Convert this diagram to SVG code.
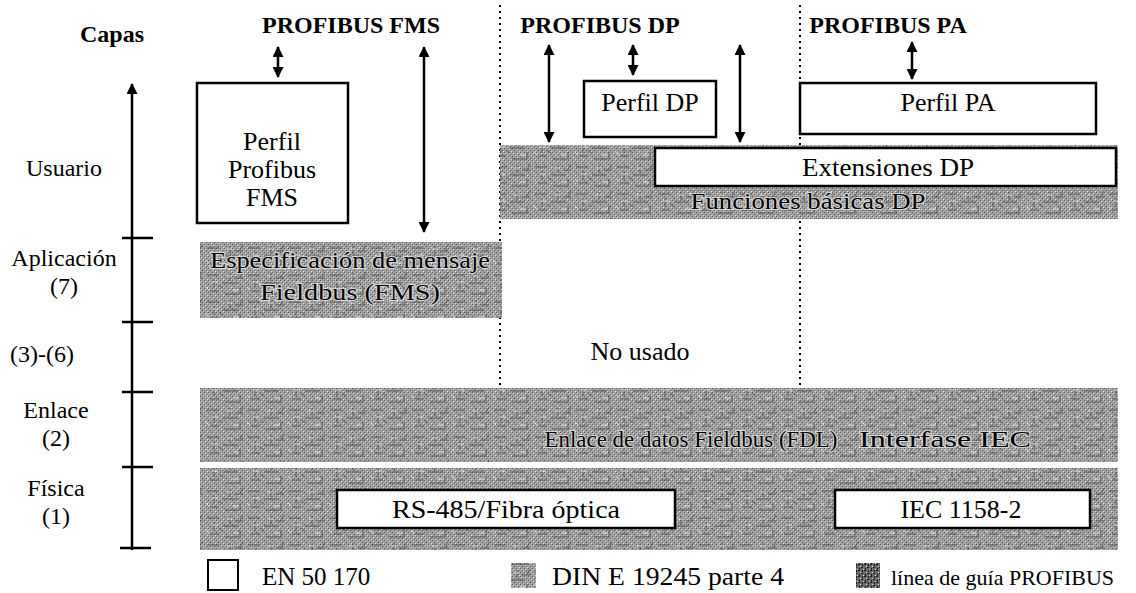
<svg xmlns="http://www.w3.org/2000/svg" width="1136" height="593" viewBox="0 0 1136 593">
<defs>
<pattern id="dots" width="8" height="8" patternUnits="userSpaceOnUse">
<rect width="8" height="8" fill="#a0a0a0"/>
<path d="M0 0h1v1H0zM2 2h1v1H2zM4 0h1v1H4zM6 2h1v1H6zM0 4h1v1H0zM4 4h1v1H4zM2 6h1v1H2zM6 6h1v1H6z" fill="#5a5a5a"/>
<path d="M1 1h1v1H1zM5 5h1v1H5zM3 3h1v1H3zM7 7h1v1H7zM5 1h1v1H5z" fill="#e2e2e2"/>
</pattern>
<pattern id="noise" width="41" height="27" patternUnits="userSpaceOnUse">
<path d="M2 5h12M18 13h15M5 21h9M25 3v8M9 9v9M35 17v8M20 24h14M30 8h8M14 15l4 3M38 2l-3 5" stroke="#404040" stroke-width="1" fill="none" opacity="0.75"/>
<path d="M7 12h6M22 6h5M28 20h6M1 17l3 3" stroke="#f0f0f0" stroke-width="1" fill="none" opacity="0.8"/>
</pattern>
<pattern id="dark" width="6" height="6" patternUnits="userSpaceOnUse">
<rect width="6" height="6" fill="#6a6a6a"/>
<path d="M0 0h2v1H0zM3 3h2v1H3zM1 4h1v2H1zM4 0h1v2H4z" fill="#1e1e1e"/>
<path d="M2 2h1v1H2zM5 5h1v1H5z" fill="#d8d8d8"/>
</pattern>
<marker id="ah" viewBox="0 0 11 11" refX="10" refY="5.5" markerWidth="11" markerHeight="11" markerUnits="userSpaceOnUse" orient="auto-start-reverse">
<path d="M0 0L11 5.5L0 11z" fill="#000"/>
</marker>
<style>
text{font-family:"Liberation Serif","Times New Roman",serif;fill:#000}
.t{font-size:24px}
.m{font-size:26px}
.l{font-size:25px}
.h{font-size:24px;font-weight:bold}
.c{text-anchor:middle}
.g{font-size:23px;text-anchor:middle;stroke:#d8d8d8;stroke-width:2;paint-order:stroke}
.box{fill:#fff;stroke:#000;stroke-width:2.5}
.gray{fill:url(#dots)}
.nz{fill:url(#noise)}
.ax{stroke:#000;stroke-width:2.5;fill:none}
.arr{stroke:#000;stroke-width:2.5;fill:none;marker-start:url(#ah);marker-end:url(#ah)}
.dot{stroke:#000;stroke-width:2;stroke-dasharray:2 4;fill:none}
</style>
</defs>
<rect width="1136" height="593" fill="#fff"/>

<g id="titles">
<text class="h c" x="112" y="42">Capas</text>
<text class="h c" x="351" y="33">PROFIBUS FMS</text>
<text class="h c" x="600" y="33">PROFIBUS DP</text>
<text class="h c" x="888" y="33">PROFIBUS PA</text>
</g>

<g id="axis">
<line class="ax" x1="132" y1="550" x2="132" y2="84" marker-end="url(#ah)"/>
<path class="ax" d="M122 238h31M122 322h31M122 392h31M122 467h31M120 548h31"/>
<text class="t c" x="64" y="176">Usuario</text>
<text class="t c" x="64" y="266">Aplicación</text>
<text class="t c" x="64" y="294">(7)</text>
<text class="t c" x="42" y="362">(3)-(6)</text>
<text class="t c" x="56" y="418">Enlace</text>
<text class="t c" x="56" y="446">(2)</text>
<text class="t c" x="56" y="496">Física</text>
<text class="t c" x="56" y="524">(1)</text>
</g>

<g id="dividers">
<line class="dot" x1="500" y1="5" x2="500" y2="388"/>
<line class="dot" x1="800" y1="5" x2="800" y2="388"/>
</g>

<g id="fms-perfil">
<rect class="box" x="197" y="83" width="151" height="140"/>
<text class="m c" x="272" y="150">Perfil</text>
<text class="m c" x="272" y="178">Profibus</text>
<text class="m c" x="272" y="206">FMS</text>
</g>

<g id="dp-basicas">
<rect class="gray" x="500" y="145" width="618" height="74"/>
<rect class="nz" x="500" y="145" width="618" height="74"/>
<text class="g" x="808" y="209" textLength="235" lengthAdjust="spacingAndGlyphs">Funciones básicas DP</text>
</g>

<g id="dp-ext">
<rect class="box" x="655" y="148" width="461" height="38"/>
<text class="m c" x="888" y="176" textLength="172" lengthAdjust="spacingAndGlyphs">Extensiones DP</text>
</g>

<g id="dp-perfil">
<rect class="box" x="584" y="81" width="132" height="56"/>
<text class="m c" x="650" y="111">Perfil DP</text>
</g>

<g id="pa-perfil">
<rect class="box" x="800" y="83" width="296" height="51"/>
<text class="m c" x="948" y="111">Perfil PA</text>
</g>

<g id="fms-spec">
<rect class="gray" x="200" y="242" width="302" height="76"/>
<rect class="nz" x="200" y="242" width="302" height="76"/>
<text class="g" x="350" y="268" textLength="280" lengthAdjust="spacingAndGlyphs">Especificación de mensaje</text>
<text class="g" x="350" y="300" textLength="180" lengthAdjust="spacingAndGlyphs">Fieldbus (FMS)</text>
</g>

<g id="no-usado">
<text class="m c" x="640" y="360">No usado</text>
</g>

<g id="enlace">
<rect class="gray" x="200" y="388" width="918" height="74"/>
<rect class="nz" x="200" y="388" width="918" height="74"/>
<text class="g" x="691" y="447" textLength="293" lengthAdjust="spacingAndGlyphs">Enlace de datos Fieldbus (FDL)</text>
<text class="g" x="945" y="447" textLength="172" lengthAdjust="spacingAndGlyphs">Interfase IEC</text>
</g>

<g id="fisica">
<rect class="gray" x="200" y="468" width="918" height="82"/>
<rect class="nz" x="200" y="468" width="918" height="82"/>
</g>

<g id="rs485">
<rect class="box" x="337" y="490" width="338" height="38"/>
<text class="m c" x="506" y="518" textLength="228" lengthAdjust="spacingAndGlyphs">RS-485/Fibra óptica</text>
</g>

<g id="iec">
<rect class="box" x="835" y="490" width="255" height="38"/>
<text class="m c" x="961" y="518">IEC 1158-2</text>
</g>

<g id="connectors">
<line class="arr" x1="278" y1="47" x2="278" y2="77"/>
<line class="arr" x1="424" y1="47" x2="424" y2="232"/>
<line class="arr" x1="549" y1="45" x2="549" y2="142"/>
<line class="arr" x1="633" y1="45" x2="633" y2="75"/>
<line class="arr" x1="740" y1="45" x2="740" y2="142"/>
<line class="arr" x1="912" y1="42" x2="912" y2="79"/>
</g>

<g id="legend">
<rect x="208" y="560" width="30" height="30" fill="#fff" stroke="#000" stroke-width="2"/>
<text class="l" x="262" y="585">EN 50 170</text>
<rect class="gray" x="511" y="563" width="25" height="25"/>
<rect class="nz" x="511" y="563" width="25" height="25"/>
<text class="l" x="552" y="585" textLength="232" lengthAdjust="spacingAndGlyphs">DIN E 19245 parte 4</text>
<rect x="856" y="563" width="24" height="25" fill="url(#dark)"/>
<text x="891" y="585" font-size="22">línea de guía PROFIBUS</text>
</g>
</svg>
